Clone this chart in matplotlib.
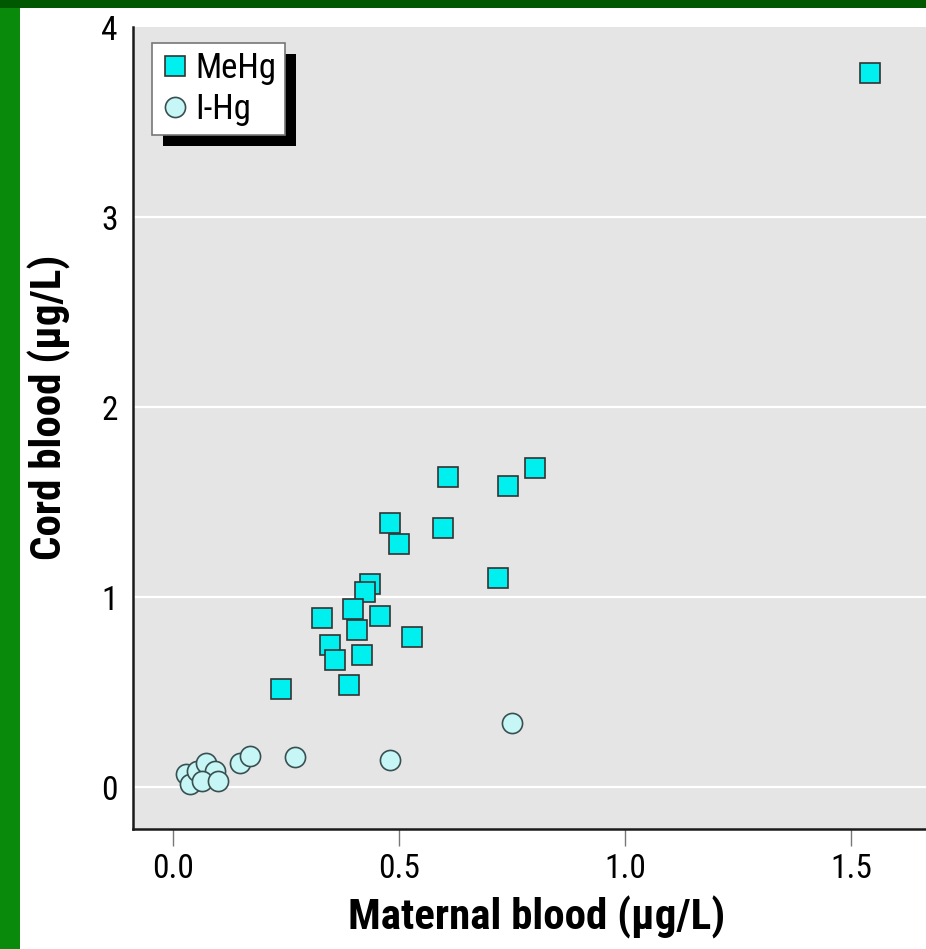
import matplotlib
matplotlib.use("Agg")
import matplotlib.pyplot as plt
from matplotlib import font_manager
from matplotlib.patches import Rectangle

## values
mehg_maternal = [1.542, 0.801, 0.741, 0.608, 0.597, 0.480, 0.500, 0.719, 0.436, 0.425,
                 0.398, 0.330, 0.458, 0.407, 0.347, 0.529, 0.358, 0.418, 0.389, 0.239]
mehg_cord = [3.757, 1.678, 1.583, 1.631, 1.367, 1.393, 1.282, 1.103, 1.071, 1.029,
             0.939, 0.892, 0.902, 0.828, 0.749, 0.792, 0.670, 0.697, 0.538, 0.517]

ihg_maternal = [0.028, 0.038, 0.052, 0.072, 0.093, 0.063, 0.100, 0.148, 0.170, 0.270, 0.480, 0.749]
ihg_cord = [0.068, 0.016, 0.085, 0.130, 0.085, 0.035, 0.035, 0.130, 0.167, 0.158, 0.144, 0.338]

x_ticks = [0.0, 0.5, 1.0, 1.5]
x_ticklabels = ["0.0", "0.5", "1.0", "1.5"]
y_ticks = [0, 1, 2, 3, 4]

## pick a condensed family if one with a bold face is installed
weights = {}
for f in font_manager.fontManager.ttflist:
    weights.setdefault(f.name, set()).add(f.weight)
condensed = "DejaVu Sans"
for name in ["Roboto Condensed", "Archivo Narrow", "PT Sans Narrow", "Fira Sans Condensed",
             "IBM Plex Sans Condensed", "Liberation Sans Narrow", "Sofia Sans Condensed"]:
    w = weights.get(name, set())
    if 400 in w and 700 in w:
        condensed = name
        break
plt.rcParams['font.family'] = [condensed, "DejaVu Sans"]

fig = plt.figure(figsize=(9.26, 9.49), dpi=100)
fig.patch.set_facecolor("white")

## green frame on the left and top
fig.patches.append(Rectangle((0, 0), 20 / 926, 1, transform=fig.transFigure,
                             facecolor="#0a8a0a", edgecolor="none", zorder=-5))
fig.patches.append(Rectangle((0, 1 - 8 / 949), 1, 8 / 949, transform=fig.transFigure,
                             facecolor="#005800", edgecolor="none", zorder=-5))

ax = fig.add_axes([133 / 926, 1 - 829 / 949, 1 - 133 / 926, (829 - 27) / 949])
ax.set_facecolor("#e5e5e5")

ax.plot(mehg_maternal, mehg_cord, linestyle="none", marker="s", markersize=14,
        markerfacecolor="#00f0f0", markeredgecolor="#333333", markeredgewidth=1.2,
        label="MeHg", zorder=3)
ax.plot(ihg_maternal, ihg_cord, linestyle="none", marker="o", markersize=14.5,
        markerfacecolor="#c6f6f6", markeredgecolor="#3a5050", markeredgewidth=1.2,
        label="I-Hg", zorder=3)

ax.set_xlim(-0.089, 1.666)
ax.set_ylim(-0.219, 4.0)
ax.set_xticks(x_ticks)
ax.set_xticklabels(x_ticklabels)
ax.set_yticks(y_ticks)
for yv in y_ticks[:-1]:
    ax.axhline(yv, color="white", linewidth=1.6, zorder=1)

for s in ["top", "right"]:
    ax.spines[s].set_visible(False)
for s in ["left", "bottom"]:
    ax.spines[s].set_color("#1a1a1a")
    ax.spines[s].set_linewidth(1.8)

ax.tick_params(axis="x", direction="out", length=12, width=1, color="#777777",
               labelsize=24, pad=5)
ax.tick_params(axis="y", length=0, labelsize=24, pad=11)

fig.text(537 / 926, 1 - 917 / 949, "Maternal blood (\u00b5g/L)", fontsize=31,
         fontweight="bold", ha="center", va="center")
fig.text(49 / 926, 1 - 407 / 949, "Cord blood (\u00b5g/L)", fontsize=31,
         fontweight="bold", ha="center", va="center", rotation=90)

leg = ax.legend(loc="upper left", bbox_to_anchor=(0.024, 0.98), borderaxespad=0,
                fontsize=25, frameon=True, fancybox=False, framealpha=1,
                edgecolor="#777777", handletextpad=0.2, handlelength=0.8,
                labelspacing=0.25, borderpad=0.25, numpoints=1)
leg.get_frame().set_linewidth(1.2)
leg.set_zorder(6)

## black drop shadow behind the legend
fig.canvas.draw()
bb = leg.get_window_extent()
inv = ax.transAxes.inverted()
(x0, y0), (x1, y1) = inv.transform([(bb.x0 + 11, bb.y0 - 11), (bb.x1 + 11, bb.y1 - 11)])
ax.add_patch(Rectangle((x0, y0), x1 - x0, y1 - y0, transform=ax.transAxes,
                       facecolor="black", edgecolor="none", zorder=5.5, clip_on=False))

plt.savefig("out.png", dpi=100)
